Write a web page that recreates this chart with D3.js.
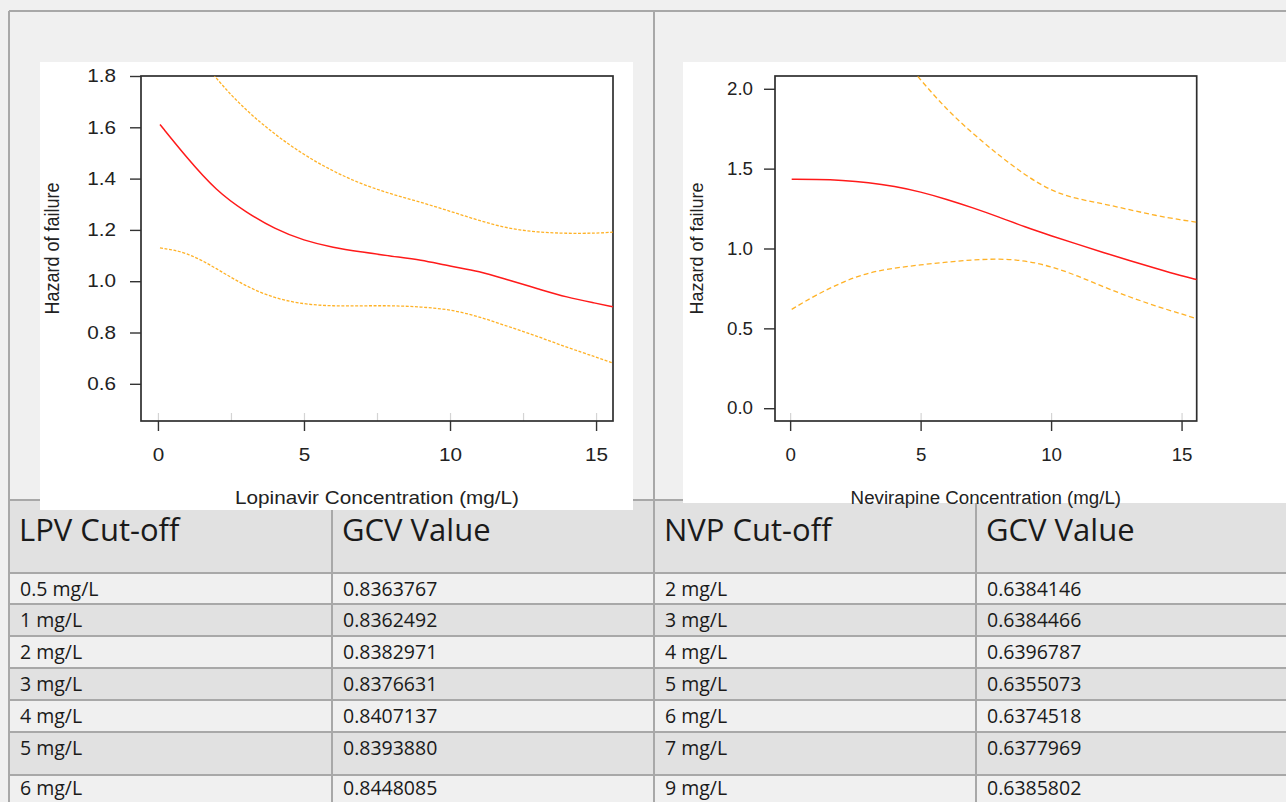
<!DOCTYPE html>
<html>
<head>
<meta charset="utf-8">
<script src="https://cdn.jsdelivr.net/npm/d3@7"></script>
<style>
  body { margin: 0; background: #f0f0f0; }
  svg { display: block; }
</style>
</head>
<body>
<svg id="chart" width="1286" height="802"></svg>
<script>
// ---- Lopinavir: fitted hazard of failure with pointwise confidence limits ----
const lpvConc   = [0.07, 1, 2, 3, 4, 5, 6, 7, 8, 9, 10, 11, 12, 13, 14, 15, 15.58];
const lpvHazard = [1.611, 1.48, 1.352, 1.27, 1.203, 1.158, 1.131, 1.114, 1.097, 1.084, 1.058, 1.04, 1.004, 0.971, 0.937, 0.914, 0.900];
const lpvUpper  = [2.12, 1.94, 1.786, 1.667, 1.572, 1.492, 1.428, 1.377, 1.339, 1.308, 1.273, 1.236, 1.205, 1.191, 1.186, 1.187, 1.191];
const lpvLower  = [1.13, 1.113, 1.05, 0.98, 0.933, 0.910, 0.903, 0.904, 0.905, 0.900, 0.89, 0.862, 0.823, 0.785, 0.742, 0.704, 0.681];

// ---- Nevirapine: fitted hazard of failure with pointwise confidence limits ----
const nvpConc   = [0.06, 1, 2, 3, 4, 5, 6, 7, 8, 9, 10, 11, 12, 13, 14, 15, 15.58];
const nvpHazard = [1.433, 1.432, 1.427, 1.414, 1.39, 1.355, 1.308, 1.255, 1.197, 1.135, 1.08, 1.027, 0.975, 0.925, 0.876, 0.828, 0.806];
const nvpUpper  = [3.05, 2.85, 2.65, 2.45, 2.25, 2.055, 1.869, 1.72, 1.583, 1.46, 1.36, 1.31, 1.28, 1.243, 1.207, 1.178, 1.165];
const nvpLower  = [0.619, 0.71, 0.79, 0.85, 0.878, 0.898, 0.915, 0.929, 0.936, 0.925, 0.888, 0.83, 0.76, 0.697, 0.64, 0.59, 0.561];

// ---- axis ticks ----
const concTicks    = [0, 5, 10, 15];
const lpvMinorTicks = [0, 2.5, 5, 7.5, 10, 12.5, 15];
const nvpMinorTicks = [0, 5, 10, 15];
const lpvHazardTicks = [0.6, 0.8, 1.0, 1.2, 1.4, 1.6, 1.8];
const nvpHazardTicks = [0.0, 0.5, 1.0, 1.5, 2.0];

// ---- GCV table ----
const lpvHeader  = ["LPV Cut-off", "GCV Value"];
const nvpHeader  = ["NVP Cut-off", "GCV Value"];
const lpvCutoffs = ["0.5 mg/L", "1 mg/L", "2 mg/L", "3 mg/L", "4 mg/L", "5 mg/L", "6 mg/L"];
const lpvGcv     = ["0.8363767", "0.8362492", "0.8382971", "0.8376631", "0.8407137", "0.8393880", "0.8448085"];
const nvpCutoffs = ["2 mg/L", "3 mg/L", "4 mg/L", "5 mg/L", "6 mg/L", "7 mg/L", "9 mg/L"];
const nvpGcv     = ["0.6384146", "0.6384466", "0.6396787", "0.6355073", "0.6374518", "0.6377969", "0.6385802"];

const svg = d3.select("#chart");
const W = 1286, H = 802;
const GRID = "#a8a8a8";

svg.append("rect").attr("width", W).attr("height", H).attr("fill", "#f0f0f0");

// ================= table =================
const colX = [9, 332, 654, 976, W];
const headerTop = 500, headerBottom = 573;
const rowTops = [573, 604, 636, 668, 700, 732, 775, H];

const table = svg.append("g").attr("class", "gcv-table");
table.append("rect").attr("x", 9).attr("y", headerTop).attr("width", W - 9).attr("height", headerBottom - headerTop).attr("fill", "#e1e1e1");
for (let i = 0; i < rowTops.length - 1; i++) {
  table.append("rect").attr("x", 9).attr("y", rowTops[i])
    .attr("width", W - 9).attr("height", rowTops[i + 1] - rowTops[i])
    .attr("fill", i % 2 === 0 ? "#f0f0f0" : "#e1e1e1");
}
// horizontal rules
[headerTop].concat(rowTops.slice(0, -1)).forEach(y => {
  table.append("line").attr("x1", 9).attr("x2", W).attr("y1", y).attr("y2", y)
    .attr("stroke", GRID).attr("stroke-width", 2);
});
// vertical rules inside the table
[colX[1], colX[3]].forEach(x => {
  table.append("line").attr("x1", x).attr("x2", x).attr("y1", headerTop).attr("y2", H)
    .attr("stroke", GRID).attr("stroke-width", 2);
});

const headerCells = [lpvHeader[0], lpvHeader[1], nvpHeader[0], nvpHeader[1]];
headerCells.forEach((t, i) => {
  table.append("text").attr("x", colX[i] + 10).attr("y", headerTop + 41)
    .attr("font-family", "'Open Sans', sans-serif").attr("font-size", 31)
    .attr("fill", "#1a1a1a").text(t);
});
const columns = [lpvCutoffs, lpvGcv, nvpCutoffs, nvpGcv];
columns.forEach((col, c) => {
  col.forEach((t, r) => {
    // the last row is only partly inside the frame, so its text sits a little higher
    const base = r === col.length - 1 ? rowTops[r] + 20 : rowTops[r] + 23;
    table.append("text").attr("x", colX[c] + 11).attr("y", base)
      .attr("font-family", "'Open Sans', sans-serif").attr("font-size", 19.5)
      .attr("fill", "#1a1a1a").text(t);
  });
});

// outer frame and middle divider
svg.append("line").attr("x1", 9).attr("x2", W).attr("y1", 11).attr("y2", 11).attr("stroke", GRID).attr("stroke-width", 2);
svg.append("line").attr("x1", 9).attr("x2", 9).attr("y1", 11).attr("y2", H).attr("stroke", GRID).attr("stroke-width", 2);
svg.append("line").attr("x1", colX[2]).attr("x2", colX[2]).attr("y1", 11).attr("y2", H).attr("stroke", GRID).attr("stroke-width", 2);

// ================= hazard panels =================
function drawPanel(cfg) {
  const g = svg.append("g");
  g.append("rect").attr("x", cfg.panel[0]).attr("y", cfg.panel[1])
    .attr("width", cfg.panel[2]).attr("height", cfg.panel[3]).attr("fill", "#ffffff");

  const [bx0, by0, bx1, by1] = cfg.box;
  const x = d3.scaleLinear().domain(cfg.xDomain).range([bx0, bx1]);
  const y = d3.scaleLinear().domain(cfg.yDomain).range([by1, by0]);
  const sx = cfg.stretch;
  const font = "'Liberation Sans', Arial, sans-serif";

  const clipId = cfg.id + "-clip";
  g.append("clipPath").attr("id", clipId).append("rect")
    .attr("x", bx0).attr("y", by0).attr("width", bx1 - bx0).attr("height", by1 - by0);

  // light interior ticks along the bottom edge
  g.append("g").attr("transform", `translate(0,${by1})`)
    .call(d3.axisTop(x).tickValues(cfg.minorTicks).tickSize(8).tickFormat(""))
    .call(a => a.select(".domain").remove())
    .call(a => a.selectAll("line").attr("stroke", "#d4d4d4").attr("stroke-width", 1.2));

  // x axis
  const xa = g.append("g").attr("transform", `translate(0,${by1})`)
    .call(d3.axisBottom(x).tickValues(concTicks).tickSize(10).tickPadding(cfg.xPad).tickFormat(d3.format("d")));
  xa.select(".domain").remove();
  xa.selectAll("line").attr("stroke", "#333").attr("stroke-width", 1.4);
  xa.selectAll("text").attr("font-family", font).attr("font-size", cfg.fontSize).attr("fill", "#222")
    .attr("transform", `scale(${sx},1)`);

  // y axis
  const ya = g.append("g").attr("transform", `translate(${bx0},0)`)
    .call(d3.axisLeft(y).tickValues(cfg.yTicks).tickSize(11).tickPadding(cfg.yPad).tickFormat(d3.format(".1f")));
  ya.select(".domain").remove();
  ya.selectAll("line").attr("stroke", "#333").attr("stroke-width", 1.4);
  ya.selectAll("text").attr("font-family", font).attr("font-size", cfg.fontSize).attr("fill", "#222")
    .attr("transform", function () {
      const tx = +d3.select(this).attr("x");
      return `translate(${tx},0) scale(${sx},1) translate(${-tx},0)`;
    });

  // frame
  g.append("rect").attr("x", bx0).attr("y", by0).attr("width", bx1 - bx0).attr("height", by1 - by0)
    .attr("fill", "none").attr("stroke", "#2e2e2e").attr("stroke-width", 1.7);

  // curves
  const line = d3.line().x(d => x(d[0])).y(d => y(d[1])).curve(d3.curveBasis);
  const curves = g.append("g").attr("clip-path", `url(#${clipId})`);
  [cfg.upper, cfg.lower].forEach(vals => {
    curves.append("path").datum(cfg.conc.map((c, i) => [c, vals[i]]))
      .attr("d", line).attr("fill", "none")
      .attr("stroke", "#ffa500").attr("stroke-opacity", 0.85)
      .attr("stroke-width", 1.3).attr("stroke-dasharray", cfg.dash);
  });
  curves.append("path").datum(cfg.conc.map((c, i) => [c, cfg.hazard[i]]))
    .attr("d", line).attr("fill", "none").attr("stroke", "#ff1a1a").attr("stroke-width", 1.5);

  // axis titles
  g.append("text").attr("text-anchor", "middle")
    .attr("transform", `translate(${(bx0 + bx1) / 2},${cfg.xTitleY}) scale(${sx},1)`)
    .attr("font-family", font).attr("font-size", cfg.fontSize).attr("fill", "#222")
    .text(cfg.xTitle);
  g.append("text").attr("text-anchor", "middle")
    .attr("transform", `translate(${cfg.yTitleX},${(by0 + by1) / 2}) scale(${sx},1) rotate(-90)`)
    .attr("font-family", font).attr("font-size", cfg.fontSize).attr("fill", "#222")
    .text("Hazard of failure");
}

drawPanel({
  id: "lpv", panel: [40, 62, 593, 448], box: [141, 76, 613, 421],
  xDomain: [-0.58, 15.58], yDomain: [0.455, 1.8],
  yTicks: lpvHazardTicks, minorTicks: lpvMinorTicks,
  conc: lpvConc, hazard: lpvHazard, upper: lpvUpper, lower: lpvLower,
  dash: "3,1.6", stretch: 1.15, fontSize: 18, xPad: 17, yPad: 14,
  xTitle: "Lopinavir Concentration (mg/L)", xTitleY: 504, yTitleX: 59
});

drawPanel({
  id: "nvp", panel: [683, 62, 603, 441], box: [775, 76, 1196.7, 421],
  xDomain: [-0.58, 15.58], yDomain: [-0.08, 2.08],
  yTicks: nvpHazardTicks, minorTicks: nvpMinorTicks,
  conc: nvpConc, hazard: nvpHazard, upper: nvpUpper, lower: nvpLower,
  dash: "5,3", stretch: 1.04, fontSize: 18, xPad: 17, yPad: 11,
  xTitle: "Nevirapine Concentration (mg/L)", xTitleY: 504, yTitleX: 703
});
</script>
</body>
</html>
